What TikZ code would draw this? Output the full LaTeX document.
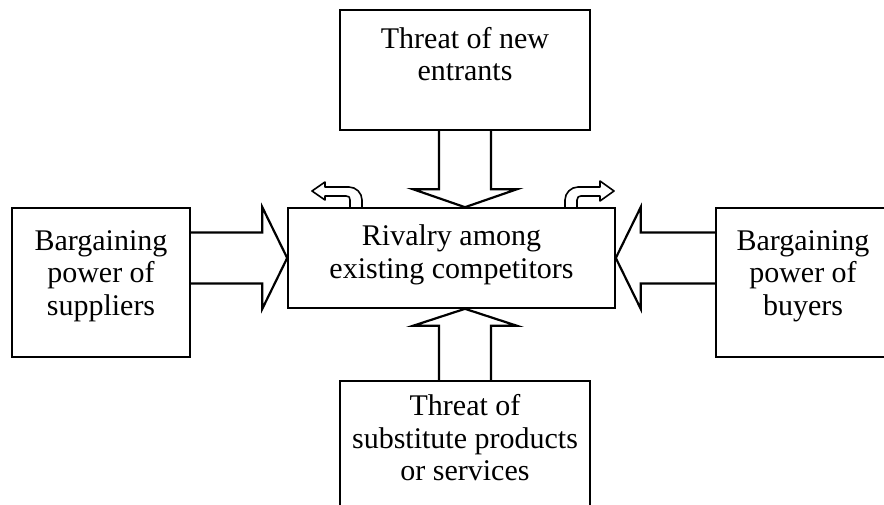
\documentclass[tikz,border=0pt]{standalone}
\usepackage{fontspec}
\setmainfont{Liberation Serif}
\usetikzlibrary{calc}
\newcommand\lblfont{\fontsize{30}{32.5}\selectfont}
\tikzset{
  box/.style={draw, line width=1.6pt, inner sep=0pt},
  lbl/.style={align=center, font=\lblfont, inner sep=0pt},
  blk/.style={draw, line width=2.2pt, line join=miter},
  bent/.style={draw, line width=1.6pt, line join=round},
}
\begin{document}
\begin{tikzpicture}[x=1pt,y=-1pt]
\useasboundingbox (0,0) rectangle (884,504);
% boxes
\node[box, minimum width=327pt, minimum height=100pt] (riv) at (451.5,258) {};
\node[box, minimum width=250pt, minimum height=120pt] (ent) at (465,70) {};
\node[box, minimum width=250pt, minimum height=159pt] (sub) at (465,460.5) {};
\node[box, minimum width=178pt, minimum height=149pt] (sup) at (101,282.5) {};
\node[box, minimum width=176pt, minimum height=149pt] (buy) at (804,282.5) {};
% texts
\node[lbl] (rivt) at (451.5,255) {Rivalry among\\existing competitors};
\node[lbl] (entt) at (465,54) {Threat of new\\entrants};
\node[lbl] (subt) at (465,438) {Threat of\\substitute products\\or services};
\node[lbl] (supt) at (101,276) {Bargaining\\power of\\suppliers};
\node[lbl] (buyt) at (803,276) {Bargaining\\power of\\buyers};
% block arrows
\draw[blk] ($(sup.east |- riv.west)+(0,-25.5)$) -- ($(riv.west)+(-25,-25.5)$) -- ($(riv.west)+(-25,-51)$)
  -- (riv.west) -- ($(riv.west)+(-25,51)$) -- ($(riv.west)+(-25,25.5)$) -- ($(sup.east |- riv.west)+(0,25.5)$);
\draw[blk] ($(buy.west |- riv.east)+(0,-25.5)$) -- ($(riv.east)+(25,-25.5)$) -- ($(riv.east)+(25,-51)$)
  -- (riv.east) -- ($(riv.east)+(25,51)$) -- ($(riv.east)+(25,25.5)$) -- ($(buy.west |- riv.east)+(0,25.5)$);
\coordinate (dtip) at (ent.south |- riv.north);
\draw[blk] ($(ent.south)+(-26,0)$) -- ($(dtip)+(-26,-18)$) -- ($(dtip)+(-52,-18)$) -- (dtip)
  -- ($(dtip)+(52,-18)$) -- ($(dtip)+(26,-18)$) -- ($(ent.south)+(26,0)$);
\coordinate (utip) at (sub.north |- riv.south);
\draw[blk] ($(sub.north)+(-26,0)$) -- ($(utip)+(-26,17)$) -- ($(utip)+(-52,17)$) -- (utip)
  -- ($(utip)+(52,17)$) -- ($(utip)+(26,17)$) -- ($(sub.north)+(26,0)$);
% bent arrows on top of rivalry box
\draw[bent] (362,208) -- (362,200) .. controls (362,193) and (356,187) .. (349,187) -- (325,187)
  -- (325,182) -- (312,191) -- (325,200) -- (325,196) -- (346,196)
  .. controls (349,196) and (350,197) .. (350,200) -- (350,208);
\draw[bent] (565,208) -- (565,200) .. controls (565,193) and (571,187) .. (578,187) -- (600,187)
  -- (600,181) -- (614,191) -- (600,201) -- (600,196) -- (581,196)
  .. controls (579,196) and (577,197) .. (577,200) -- (577,208);
\end{tikzpicture}
\end{document}
